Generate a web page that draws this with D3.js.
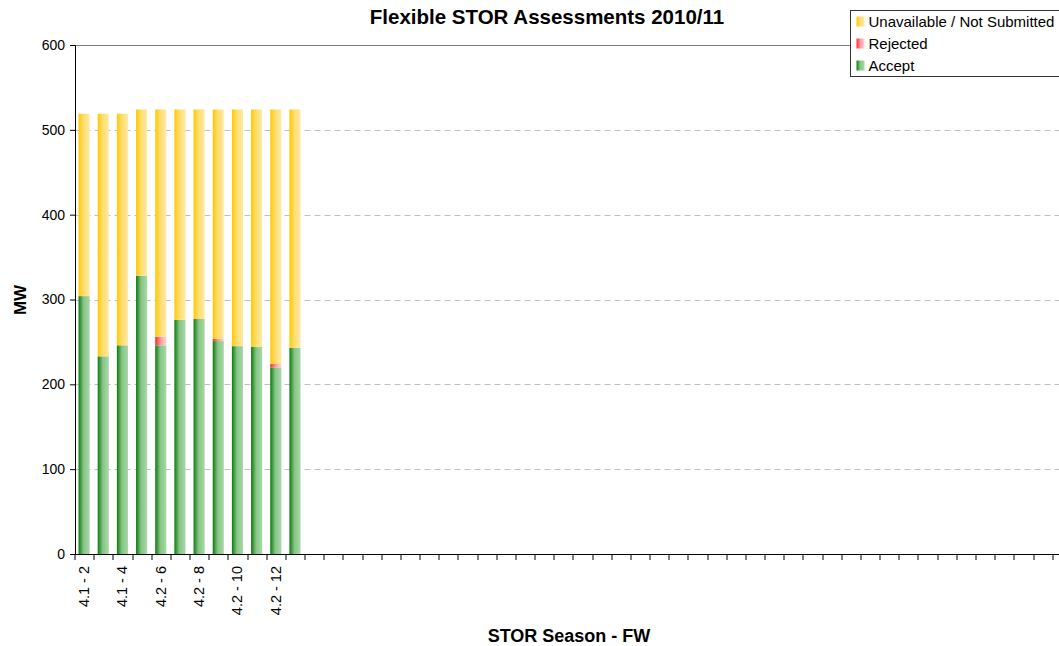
<!DOCTYPE html>
<html>
<head>
<meta charset="utf-8">
<script src="https://cdn.jsdelivr.net/npm/d3@7"></script>
<style>
  body { margin: 0; background: #fff; }
  svg { display: block; font-family: "Liberation Sans", Arial, sans-serif; }
</style>
</head>
<body>
<div id="chart"></div>
<script>
// categories (FW weeks), only the first 12 have data
var weeks = ["4.1 - 2", "4.1 - 3", "4.1 - 4", "4.2 - 5", "4.2 - 6", "4.2 - 7",
             "4.2 - 8", "4.2 - 9", "4.2 - 10", "4.2 - 11", "4.2 - 12", "4.2 - 13"];
var accept   = [304, 233, 246, 328, 246, 276, 277, 251, 245, 244, 220, 243];
var rejected = [0, 0, 0, 0, 10, 0, 0, 2.5, 0, 0, 4, 0];
var unavail  = [215, 286, 273, 196, 268, 248, 247, 270.5, 279, 280, 300, 281];
var yTicks = [0, 100, 200, 300, 400, 500, 600];
var seriesNames = ["Accept", "Rejected", "Unavailable / Not Submitted"];

var nCats = 52;
var cats = weeks.slice();
for (var i = weeks.length; i < nCats; i++) cats.push("_" + i);

var data = weeks.map(function(w, i) {
  return {week: w, Accept: accept[i], Rejected: rejected[i], "Unavailable / Not Submitted": unavail[i]};
});

var W = 1059, H = 646;
var margin = {top: 45, left: 74.5, bottom: 92};
var band = 19.17;
var plotW = band * nCats;
var plotH = H - margin.top - margin.bottom;

var svg = d3.select("#chart").append("svg")
  .attr("width", W).attr("height", H);

// gradients
var defs = svg.append("defs");
function grad(id, stops) {
  var g = defs.append("linearGradient").attr("id", id)
    .attr("x1", "0%").attr("x2", "100%").attr("y1", "0%").attr("y2", "0%");
  stops.forEach(function(s) {
    g.append("stop").attr("offset", s[0]).attr("stop-color", s[1]);
  });
}
grad("gAccept", [["0%", "#0a7d0a"], ["45%", "#86c486"], ["100%", "#a8d8a8"]]);
grad("gRejected", [["0%", "#ff2a2a"], ["50%", "#ff9aa6"], ["100%", "#ffd6dc"]]);
grad("gUnavail", [["0%", "#ffc800"], ["45%", "#ffdd6e"], ["100%", "#ffeaa6"]]);
var fills = {"Accept": "url(#gAccept)", "Rejected": "url(#gRejected)",
             "Unavailable / Not Submitted": "url(#gUnavail)"};

var g = svg.append("g")
  .attr("transform", "translate(" + margin.left + "," + margin.top + ")");

var x = d3.scaleBand().domain(cats).range([0, plotW]).paddingInner(0.42).paddingOuter(0.21);
var xb = d3.scaleBand().domain(cats).range([0, plotW]);
var y = d3.scaleLinear().domain([0, 600]).range([plotH, 0]);

// gridlines
g.selectAll(".grid").data(yTicks.filter(function(d) { return d > 0 && d < 600; }))
  .enter().append("line")
  .attr("x1", 0).attr("x2", plotW)
  .attr("y1", function(d) { return Math.round(y(d)) + 0.5; })
  .attr("y2", function(d) { return Math.round(y(d)) + 0.5; })
  .attr("stroke", "#c0c0c0").attr("stroke-dasharray", "6,4");
g.append("line")
  .attr("x1", 0).attr("x2", plotW).attr("y1", 0.5).attr("y2", 0.5)
  .attr("stroke", "#808080");

// stacked bars
var stack = d3.stack().keys(seriesNames)(data);
g.selectAll(".series").data(stack).enter().append("g")
  .attr("fill", function(d) { return fills[d.key]; })
  .selectAll("rect").data(function(d) { return d; }).enter().append("rect")
  .attr("x", function(d) { return x(d.data.week); })
  .attr("width", x.bandwidth())
  .attr("y", function(d) { return y(d[1]); })
  .attr("height", function(d) { return y(d[0]) - y(d[1]); });

// y axis
var yAxis = g.append("g").attr("transform", "translate(0.5,0)")
  .call(d3.axisLeft(y).tickValues(yTicks).tickSize(5).tickPadding(5));
yAxis.select(".domain").attr("stroke", "#000");
yAxis.selectAll("text").attr("font-size", "14px").attr("fill", "#000")
  .attr("font-family", "Liberation Sans, Arial, sans-serif");

// x axis: ticks between categories
var xg = g.append("g").attr("transform", "translate(0," + plotH + ")");
xg.append("line").attr("x1", 0).attr("x2", plotW).attr("y1", 0.5).attr("y2", 0.5)
  .attr("stroke", "#000");
xg.selectAll(".tk").data(cats.concat(["end"])).enter().append("line")
  .attr("x1", function(d, i) { return Math.round(i * xb.step()) + 0.5; })
  .attr("x2", function(d, i) { return Math.round(i * xb.step()) + 0.5; })
  .attr("y1", 0).attr("y2", 6).attr("stroke", "#000");
xg.selectAll(".lbl").data(weeks.filter(function(d, i) { return i % 2 === 0; }))
  .enter().append("text")
  .attr("transform", function(d) {
    return "translate(" + (xb(d) + xb.bandwidth() / 2 + 5) + ",12) rotate(-90)";
  })
  .attr("text-anchor", "end")
  .attr("font-size", "14.5px")
  .text(function(d) { return d; });

// titles
svg.append("text").attr("x", 547).attr("y", 24).attr("text-anchor", "middle")
  .attr("font-size", "20.5px").attr("font-weight", "bold")
  .text("Flexible STOR Assessments 2010/11");
svg.append("text").attr("x", 569).attr("y", 642).attr("text-anchor", "middle")
  .attr("font-size", "18px").attr("font-weight", "bold")
  .text("STOR Season - FW");
svg.append("text").attr("transform", "translate(26,300) rotate(-90)")
  .attr("text-anchor", "middle")
  .attr("font-size", "17px").attr("font-weight", "bold")
  .text("MW");

// legend
var lg = svg.append("g").attr("transform", "translate(850.5,10.5)");
lg.append("rect").attr("width", 220).attr("height", 66)
  .attr("fill", "#fff").attr("stroke", "#333");
var legendItems = seriesNames.slice().reverse();
legendItems.forEach(function(name, i) {
  var row = lg.append("g").attr("transform", "translate(6," + (6 + i * 22) + ")");
  row.append("rect").attr("width", 8).attr("height", 10).attr("fill", fills[name]);
  row.append("text").attr("x", 12).attr("y", 10).attr("font-size", "15px").text(name);
});
</script>
</body>
</html>
